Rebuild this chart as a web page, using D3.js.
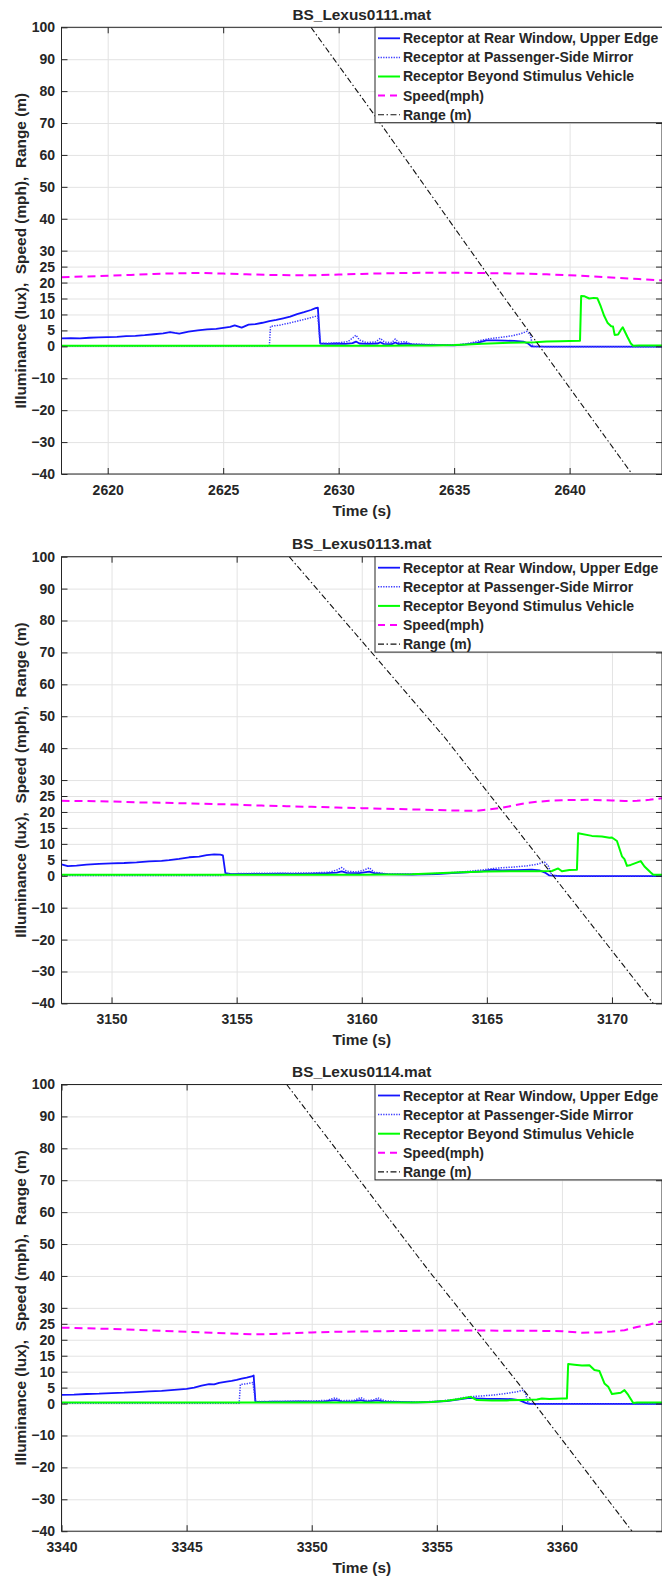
<!DOCTYPE html>
<html>
<head>
<meta charset="utf-8">
<script src="https://cdn.jsdelivr.net/npm/d3@7"></script>
<style>
  html, body { margin: 0; padding: 0; background: #fff; }
  svg { display: block; }
  text { font-family: "Liberation Sans", Arial, Helvetica, sans-serif; font-weight: bold; fill: #262626; }
</style>
</head>
<body>
<svg id="fig" width="662" height="1578"></svg>
<script>
// ---- Run titles, time windows and ticks ----
const panelTitles = ["BS_Lexus0111.mat", "BS_Lexus0113.mat", "BS_Lexus0114.mat"];
const timeDomains = [[2618, 2644], [3148, 3172], [3340, 3364]];
const xTicks0111 = [2620, 2625, 2630, 2635, 2640];
const xTicks0113 = [3150, 3155, 3160, 3165, 3170];
const xTicks0114 = [3340, 3345, 3350, 3355, 3360];
const yDomain = [-40, 100];
const yTicks = [-40, -30, -20, -10, 0, 5, 10, 15, 20, 25, 30, 40, 50, 60, 70, 80, 90, 100];
const legendLabels = [
  "Receptor at Rear Window, Upper Edge",
  "Receptor at Passenger-Side Mirror",
  "Receptor Beyond Stimulus Vehicle",
  "Speed(mph)",
  "Range (m)"
];

// ---- BS_Lexus0111: [time (s), value] ----
const rear0111 = [[2618.0,2.5],[2618.4,2.6],[2618.8,2.5],[2619.2,2.7],[2619.6,2.8],[2620.0,2.9],[2620.4,3.0],[2620.8,3.2],
  [2621.2,3.3],[2621.6,3.5],[2622.0,3.8],[2622.4,4.1],[2622.7,4.5],[2622.9,4.2],[2623.1,4.0],[2623.5,4.6],[2623.9,5.0],
  [2624.3,5.3],[2624.7,5.5],[2625.0,5.8],[2625.3,6.1],[2625.5,6.6],[2625.8,5.9],[2626.1,6.8],[2626.4,7.0],[2626.7,7.4],
  [2627.0,7.9],[2627.3,8.3],[2627.6,8.8],[2627.9,9.3],[2628.2,10.1],[2628.5,10.7],[2628.8,11.4],[2629.0,12.0],[2629.1,12.1],
  [2629.2,0.9],[2629.5,0.8],[2629.9,0.9],[2630.3,0.8],[2630.6,1.0],[2630.75,1.5],[2630.9,0.9],[2631.3,0.8],[2631.7,0.9],
  [2631.8,1.3],[2631.95,0.8],[2632.3,0.7],[2632.45,1.2],[2632.6,0.7],[2632.9,0.9],[2633.2,0.6],[2633.8,0.5],[2634.5,0.4],
  [2635.0,0.3],[2635.5,0.6],[2636.0,1.1],[2636.4,1.9],[2636.8,1.9],[2637.2,1.8],[2637.6,1.7],[2638.0,1.5],[2638.2,0.9],
  [2638.35,0.0],[2639.0,-0.1],[2640.0,-0.1],[2641.0,-0.1],[2642.0,-0.1],[2643.0,-0.1],[2644.0,-0.1]];
const mirror0111 = [[2618.0,0.1],[2627.0,0.1],[2627.05,6.3],[2627.4,6.6],[2627.8,7.2],[2628.2,7.9],[2628.6,8.6],[2629.0,9.4],
  [2629.1,9.6],[2629.2,0.9],[2629.6,1.0],[2630.0,1.1],[2630.4,1.5],[2630.6,2.6],[2630.75,3.5],[2630.9,2.0],[2631.2,1.2],
  [2631.6,1.4],[2631.8,2.5],[2632.0,1.3],[2632.3,1.2],[2632.45,2.3],[2632.6,1.3],[2632.9,1.5],[2633.1,0.8],[2633.8,0.6],
  [2634.5,0.5],[2635.2,0.5],[2635.7,1.0],[2636.1,1.8],[2636.5,2.4],[2637.0,2.8],[2637.5,3.3],[2637.9,4.0],[2638.15,4.7],
  [2638.3,3.6],[2638.4,0.0],[2639.0,-0.1],[2644.0,-0.1]];
const beyond0111 = [[2618,0.2],[2620,0.2],[2622,0.2],[2624,0.2],[2626,0.2],[2628,0.2],[2630,0.2],[2632,0.2],[2633,0.3],
  [2634,0.3],[2635,0.4],[2635.6,0.6],[2636.2,0.8],[2636.8,1.0],[2637.4,1.1],[2638.0,1.2],[2638.5,1.3],[2639.0,1.5],
  [2639.6,1.6],[2640.0,1.7],[2640.45,1.8],[2640.5,15.8],[2640.65,15.7],[2640.85,15.0],[2641.05,15.2],[2641.2,15.1],
  [2641.35,12.5],[2641.5,9.5],[2641.65,7.3],[2641.8,6.3],[2641.88,6.2],[2641.95,3.6],[2642.1,3.7],[2642.22,5.2],
  [2642.3,6.0],[2642.4,4.5],[2642.5,3.0],[2642.65,0.9],[2642.75,0.2],[2643.0,0.3],[2644.0,0.3]];
const speed0111 = [[2618,21.7],[2619,21.9],[2620,22.1],[2621,22.4],[2622,22.7],[2623,22.9],[2624,23.0],[2625,22.8],
  [2626,22.6],[2627,22.4],[2628,22.3],[2629,22.3],[2630,22.5],[2631,22.7],[2632,22.9],[2633,23.0],[2634,23.1],[2635,23.1],
  [2636,23.0],[2637,22.9],[2638,22.8],[2639,22.6],[2640,22.3],[2641,21.9],[2642,21.5],[2643,21.1],[2644,20.7]];
const range0111 = [[2628.8,100],[2630.0,88],[2631.5,73],[2636.4,23],[2638.7,0],[2642.7,-40]];

// ---- BS_Lexus0113 ----
const rear0113 = [[3148.0,3.6],[3148.25,3.0],[3148.6,3.2],[3149.0,3.5],[3149.5,3.7],[3150.0,3.9],[3150.5,4.0],[3151.0,4.2],
  [3151.5,4.5],[3152.0,4.7],[3152.3,4.9],[3152.7,5.3],[3153.1,5.8],[3153.5,6.0],[3153.8,6.5],[3154.1,6.7],[3154.35,6.6],
  [3154.45,6.4],[3154.55,0.8],[3154.8,0.5],[3155.5,0.6],[3156.2,0.6],[3156.8,0.7],[3157.4,0.6],[3158.0,0.7],[3158.6,0.8],
  [3159.0,1.0],[3159.2,1.4],[3159.4,0.9],[3159.9,0.8],[3160.3,1.3],[3160.5,0.8],[3161.0,0.5],[3162.0,0.4],[3163.0,0.5],
  [3163.6,0.8],[3164.2,1.1],[3164.8,1.4],[3165.2,1.9],[3165.6,1.7],[3166.2,1.8],[3166.8,1.9],[3167.1,1.7],[3167.35,0.9],
  [3167.5,0.1],[3168.0,-0.1],[3172.0,-0.1]];
const mirror0113 = [[3148,0.1],[3154.4,0.1],[3154.55,0.6],[3155.2,0.7],[3156,0.8],[3157,0.8],[3158,0.9],[3158.7,1.1],
  [3159.0,1.8],[3159.2,2.6],[3159.4,1.4],[3159.8,1.2],[3160.1,1.8],[3160.3,2.5],[3160.5,1.1],[3161,0.6],[3162,0.5],
  [3163,0.7],[3164,1.2],[3164.8,1.8],[3165.4,2.4],[3166.0,2.7],[3166.6,3.1],[3167.0,3.6],[3167.3,4.3],[3167.45,3.2],
  [3167.6,0.1],[3168,-0.1],[3172,-0.1]];
const beyond0113 = [[3148,0.3],[3150,0.3],[3152,0.3],[3154,0.3],[3156,0.3],[3158,0.3],[3160,0.3],[3161,0.4],[3162,0.5],
  [3163,0.8],[3164,1.1],[3165,1.3],[3166,1.4],[3167,1.4],[3167.6,1.5],[3167.85,2.3],[3168.0,1.4],[3168.3,1.8],[3168.6,1.9],
  [3168.65,13.3],[3169.2,12.5],[3169.6,12.3],[3169.9,11.9],[3170.0,12.0],[3170.2,10.9],[3170.4,6.1],[3170.5,5.2],
  [3170.6,3.1],[3170.75,3.4],[3171.15,4.6],[3171.3,2.9],[3171.55,1.0],[3171.65,0.3],[3172,0.3]];
const speed0113 = [[3148,23.5],[3149,23.4],[3150,23.3],[3151,23.0],[3152,22.9],[3153,22.7],[3154,22.5],[3155,22.3],
  [3156,22.0],[3157,21.8],[3158,21.6],[3159,21.4],[3160,21.2],[3161,21.0],[3162,20.8],[3163,20.6],[3164,20.4],[3164.6,20.4],
  [3165,20.7],[3165.6,21.3],[3166,21.9],[3166.5,22.7],[3167,23.2],[3167.5,23.5],[3168,23.7],[3169,23.8],[3170,23.6],
  [3170.5,23.4],[3171,23.5],[3171.5,23.8],[3172,24.3]];
const range0113 = [[3157.1,100],[3163.3,43.5],[3167.65,0],[3171.65,-40]];

// ---- BS_Lexus0114 ----
const rear0114 = [[3340.0,2.7],[3340.5,2.8],[3341.0,3.0],[3341.5,3.1],[3342.0,3.3],[3342.5,3.4],[3343.0,3.6],[3343.5,3.8],
  [3344.0,4.0],[3344.5,4.3],[3345.0,4.6],[3345.3,5.0],[3345.6,5.6],[3345.9,6.1],[3346.1,6.0],[3346.3,6.5],[3346.6,6.9],
  [3346.8,7.1],[3347.0,7.4],[3347.2,7.8],[3347.4,8.1],[3347.6,8.5],[3347.68,8.8],[3347.75,0.6],[3348.0,0.5],[3348.5,0.6],
  [3349.0,0.6],[3349.5,0.7],[3350.0,0.6],[3350.5,0.7],[3350.95,1.1],[3351.2,0.7],[3351.6,0.6],[3351.96,1.1],[3352.2,0.6],
  [3352.64,1.0],[3352.9,0.6],[3353.5,0.5],[3354.2,0.4],[3354.8,0.5],[3355.4,0.8],[3355.9,1.3],[3356.3,1.8],[3356.6,1.6],
  [3357.0,1.5],[3357.5,1.5],[3358.0,1.4],[3358.3,1.1],[3358.55,0.2],[3358.7,-0.1],[3364.0,-0.1]];
const mirror0114 = [[3340,0.1],[3347.1,0.1],[3347.15,6.0],[3347.4,6.2],[3347.65,6.6],[3347.75,0.7],[3348.2,0.6],[3349,0.7],
  [3350,0.8],[3350.6,1.0],[3350.95,1.8],[3351.2,0.9],[3351.7,1.0],[3351.96,1.9],[3352.2,0.9],[3352.5,1.2],[3352.64,1.8],
  [3352.9,0.9],[3353.5,0.6],[3354.3,0.5],[3355,0.7],[3355.6,1.2],[3356.1,1.9],[3356.4,2.2],[3356.8,2.4],[3357.3,2.7],
  [3357.8,3.2],[3358.2,3.7],[3358.45,4.2],[3358.55,3.0],[3358.65,0.1],[3359,-0.1],[3364,-0.1]];
const beyond0114 = [[3340,0.3],[3342,0.3],[3344,0.3],[3346,0.3],[3348,0.3],[3350,0.3],[3352,0.3],[3354,0.3],[3354.8,0.5],
  [3355.4,0.9],[3355.9,1.4],[3356.35,2.1],[3356.6,1.1],[3357.2,1.0],[3357.8,1.0],[3358.4,1.1],[3359.0,1.3],[3359.2,1.6],
  [3359.5,1.4],[3360.0,1.6],[3360.2,1.6],[3360.25,12.4],[3360.5,12.2],[3360.8,11.9],[3361.1,12.0],[3361.3,10.5],
  [3361.5,10.2],[3361.7,6.3],[3361.85,5.3],[3362.0,3.0],[3362.35,3.4],[3362.5,4.2],[3362.65,2.7],[3362.85,0.2],
  [3363,0.3],[3364,0.3]];
const speed0114 = [[3340,23.8],[3341,23.6],[3342,23.4],[3343,23.1],[3344,22.8],[3345,22.5],[3346,22.2],[3347,21.9],
  [3347.7,21.7],[3348.5,21.8],[3349,22.0],[3350,22.3],[3351,22.5],[3352,22.6],[3353,22.7],[3354,22.8],[3355,22.9],
  [3356,22.9],[3357,22.9],[3358,22.8],[3359,22.8],[3360,22.7],[3360.8,22.2],[3361.5,22.3],[3362,22.6],[3362.5,23.0],
  [3363,24.0],[3363.5,24.8],[3364,25.8]];
const range0114 = [[3349.0,100],[3354.66,41.8],[3358.9,0],[3362.8,-40]];

// ---- assemble panels ----
const panels = [
  { title: panelTitles[0], domain: timeDomains[0], xTicks: xTicks0111, series: [rear0111, mirror0111, beyond0111, speed0111, range0111] },
  { title: panelTitles[1], domain: timeDomains[1], xTicks: xTicks0113, series: [rear0113, mirror0113, beyond0113, speed0113, range0113] },
  { title: panelTitles[2], domain: timeDomains[2], xTicks: xTicks0114, series: [rear0114, mirror0114, beyond0114, speed0114, range0114] }
];

// line styles for the five series, in legend order
const seriesStyles = [
  { color: "#1414ff", width: 1.8, dash: null },
  { color: "#3a3aff", width: 1.5, dash: "1.3,1.3" },
  { color: "#00ff00", width: 2,   dash: null },
  { color: "#ff00ff", width: 2,   dash: "8,5" },
  { color: "#111111", width: 1.1, dash: "6,2.5,1.5,2.5" }
];

// ---- layout ----
const axLeft = 61.5, axWidth = 600.5, axHeight = 446.7;
const axTops = [27.3, 556.7, 1084.5];
const tickLen = 6;
const axisColor = "#262626";
const gridColor = "#e3e3e3";

const svg = d3.select("#fig");
const defs = svg.append("defs");

panels.forEach((p, i) => {
  const top = axTops[i];
  const bottom = top + axHeight;
  const right = axLeft + axWidth;
  const x = d3.scaleLinear().domain(p.domain).range([axLeft, right]);
  const y = d3.scaleLinear().domain(yDomain).range([bottom, top]);
  const g = svg.append("g").attr("class", "panel");

  const clipId = "plotClip" + i;
  defs.append("clipPath").attr("id", clipId)
    .append("rect").attr("x", axLeft).attr("y", top).attr("width", axWidth).attr("height", axHeight);

  // grid
  const gx = g.append("g").attr("transform", `translate(0,${bottom})`)
    .call(d3.axisBottom(x).tickValues(p.xTicks).tickSize(-axHeight).tickFormat(""));
  const gy = g.append("g").attr("transform", `translate(${axLeft},0)`)
    .call(d3.axisLeft(y).tickValues(yTicks).tickSize(-axWidth).tickFormat(""));
  [gx, gy].forEach(a => {
    a.select(".domain").remove();
    a.selectAll(".tick line").attr("stroke", gridColor).attr("stroke-width", 1);
  });

  // data lines
  const line = d3.line().x(d => x(d[0])).y(d => y(d[1]));
  const dataG = g.append("g").attr("clip-path", `url(#${clipId})`);
  p.series.forEach((s, k) => {
    const st = seriesStyles[k];
    dataG.append("path")
      .datum(s)
      .attr("d", line)
      .attr("fill", "none")
      .attr("stroke", st.color)
      .attr("stroke-width", st.width)
      .attr("stroke-dasharray", st.dash)
      .attr("stroke-linejoin", "round");
  });

  // axes with inward ticks on all four sides
  const styleAxis = a => {
    a.select(".domain").remove();
    a.selectAll(".tick line").attr("stroke", axisColor).attr("stroke-width", 1);
    a.selectAll(".tick text")
      .attr("fill", axisColor)
      .style("font-family", '"Liberation Sans", Arial, sans-serif')
      .style("font-weight", "bold")
      .style("font-size", "14px");
  };
  g.append("g").attr("transform", `translate(0,${bottom})`)
    .call(d3.axisBottom(x).tickValues(p.xTicks).tickSizeInner(-tickLen).tickSizeOuter(0).tickPadding(11).tickFormat(d3.format("d")))
    .call(styleAxis);
  g.append("g").attr("transform", `translate(0,${top})`)
    .call(d3.axisTop(x).tickValues(p.xTicks).tickSizeInner(-tickLen).tickSizeOuter(0).tickFormat(""))
    .call(styleAxis);
  g.append("g").attr("transform", `translate(${axLeft},0)`)
    .call(d3.axisLeft(y).tickValues(yTicks).tickSizeInner(-tickLen).tickSizeOuter(0).tickPadding(6.5).tickFormat(d3.format("d")))
    .call(styleAxis);
  g.append("g").attr("transform", `translate(${right},0)`)
    .call(d3.axisRight(y).tickValues(yTicks).tickSizeInner(-tickLen).tickSizeOuter(0).tickFormat(""))
    .call(styleAxis);

  // axes box
  g.append("rect")
    .attr("x", axLeft).attr("y", top).attr("width", axWidth).attr("height", axHeight)
    .attr("fill", "none").attr("stroke", axisColor).attr("stroke-width", 1);

  // title
  g.append("text")
    .attr("x", axLeft + axWidth / 2).attr("y", top - 7.5)
    .attr("text-anchor", "middle")
    .style("font-size", "15.4px")
    .text(p.title);

  // x label
  g.append("text")
    .attr("x", axLeft + axWidth / 2).attr("y", bottom + 42)
    .attr("text-anchor", "middle")
    .style("font-size", "15.4px")
    .text("Time (s)");

  // y label
  g.append("text")
    .attr("transform", `translate(25.5,${(top + bottom) / 2}) rotate(-90)`)
    .attr("text-anchor", "middle")
    .style("font-size", "15.4px")
    .style("white-space", "pre")
    .text("Illuminance (lux),  Speed (mph),  Range (m)");

  // legend
  const lg = g.append("g").attr("transform", `translate(375,${top})`);
  lg.append("rect")
    .attr("x", 0).attr("y", 0).attr("width", 295).attr("height", 95.4)
    .attr("fill", "#fff").attr("stroke", axisColor).attr("stroke-width", 1);
  legendLabels.forEach((lab, k) => {
    const st = seriesStyles[k];
    const ry = 11 + k * 19.1;
    lg.append("line")
      .attr("x1", 3).attr("x2", 25).attr("y1", ry).attr("y2", ry)
      .attr("stroke", st.color).attr("stroke-width", st.width)
      .attr("stroke-dasharray", k === 3 ? "7,5" : st.dash);
    lg.append("text")
      .attr("x", 28).attr("y", ry + 5)
      .style("font-size", "14px")
      .text(lab);
  });
});
</script>
</body>
</html>
